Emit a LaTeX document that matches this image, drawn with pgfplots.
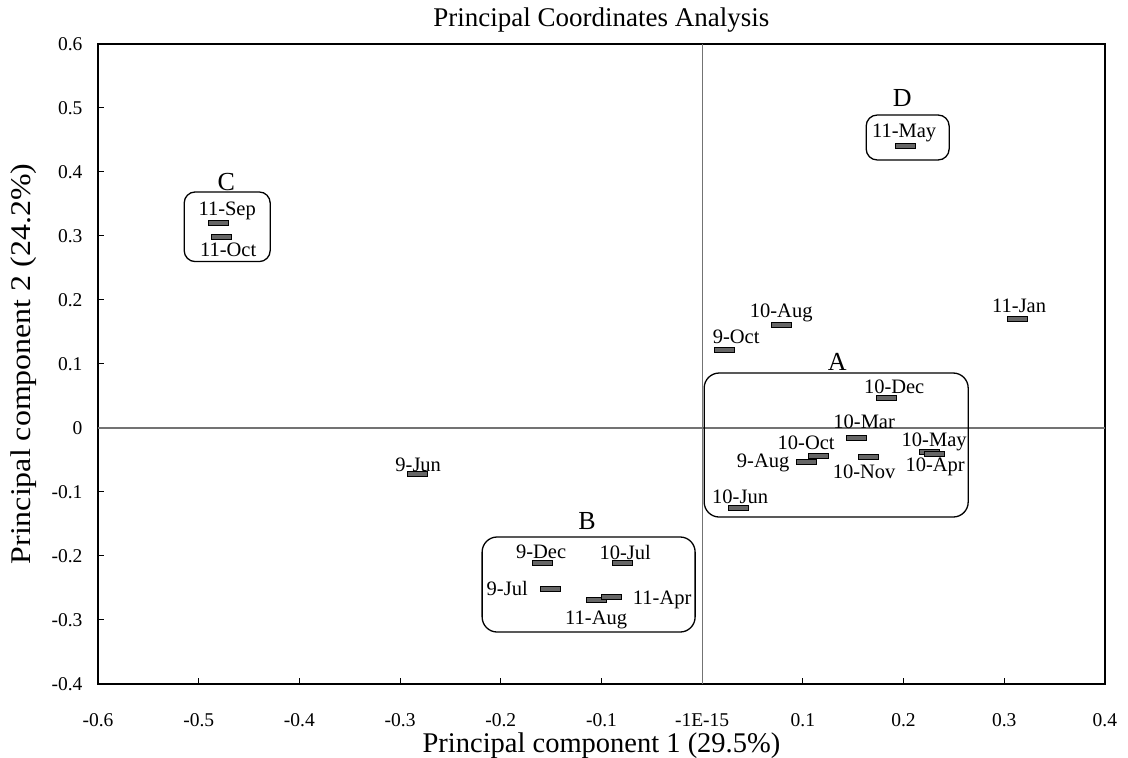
\documentclass[border=0pt]{standalone}
\usepackage{fontspec}
\setmainfont{Liberation Serif}
\usepackage{pgfplots}
\pgfplotsset{compat=1.18}
\pgfdeclareplotmark{hbar}{%
  \pgfpathrectangle{\pgfqpoint{-10pt}{-2.5pt}}{\pgfqpoint{20pt}{5pt}}%
  \pgfusepathqfillstroke}
\newcommand{\lbl}{\fontsize{20.5}{20.5}\selectfont}
\newcommand{\grp}{\fontsize{26}{26}\selectfont}
\begin{document}
\begin{tikzpicture}
\path[use as bounding box] (0,0) rectangle (1128pt,758pt);
\begin{axis}[
  at={(98pt,74pt)}, anchor=south west,
  scale only axis, width=1007pt, height=640pt,
  xmin=-0.6, xmax=0.4, ymin=-0.4, ymax=0.6,
  axis line style={line width=1.6pt},
  xtick={-0.6,-0.5,-0.4,-0.3,-0.2,-0.1,0,0.1,0.2,0.3,0.4},
  xticklabels={-0.6,-0.5,-0.4,-0.3,-0.2,-0.1,-1E-15,0.1,0.2,0.3,0.4},
  ytick={-0.4,-0.3,-0.2,-0.1,0,0.1,0.2,0.3,0.4,0.5,0.6},
  yticklabels={-0.4,-0.3,-0.2,-0.1,0,0.1,0.2,0.3,0.4,0.5,0.6},
  xtick pos=bottom, ytick pos=left, tick align=inside, major tick length=6pt,
  tick style={black, line width=1pt},
  ticklabel style={font=\fontsize{19.5}{19.5}\selectfont},
  xticklabel style={anchor=base, yshift=-42pt},
  yticklabel style={xshift=-12pt},
  title={Principal Coordinates Analysis},
  title style={at={(axis description cs:0.5,1)}, anchor=base, yshift=11pt, font=\fontsize{27}{27}\selectfont},
  xlabel={Principal component 1 (29.5\%)},
  xlabel style={at={(axis description cs:0.5,0)}, anchor=base, yshift=-68pt, font=\fontsize{28.5}{28.5}\selectfont},
  ylabel={\scalebox{1.12}[1]{Principal component 2 (24.2\%)}},
  ylabel style={at={(axis description cs:0,0.5)}, anchor=base, yshift=67pt, font=\fontsize{28.5}{28.5}\selectfont},
  clip=false,
]
% zero lines
\draw[black!55, line width=1.1pt] (axis cs:-0.6,0) -- (axis cs:0.4,0);
\draw[black!55, line width=1.1pt] (axis cs:0,-0.4) -- (axis cs:0,0.6);

\addplot[only marks, mark=hbar, mark options={fill=black!60, draw=black, line width=0.7pt}] coordinates {
(-0.4806,0.3203) (-0.4777,0.2984) (0.2016,0.4406) (0.3128,0.1703)
(0.0785,0.1609) (0.0218,0.1219) (0.1827,0.0469) (0.1529,-0.0156)
(0.1152,-0.0438) (0.1033,-0.0531) (0.1648,-0.0453) (0.2254,-0.0375)
(0.2304,-0.0406) (0.0357,-0.1250) (-0.2830,-0.0719) (-0.1589,-0.2109)
(-0.0794,-0.2109) (-0.1509,-0.2516) (-0.1053,-0.2688) (-0.0904,-0.2641)
};

% group boxes
\draw[line width=1.3pt, rounded corners=15pt] (axis cs:0.002,0.0859) rectangle (axis cs:0.2642,-0.1391);
\draw[line width=1.3pt, rounded corners=15pt] (axis cs:-0.2185,-0.1703) rectangle (axis cs:-0.007,-0.3188);
\draw[line width=1.3pt, rounded corners=11pt] (axis cs:-0.5144,0.3688) rectangle (axis cs:-0.4290,0.2600);
\draw[line width=1.3pt, rounded corners=11pt] (axis cs:0.1629,0.489) rectangle (axis cs:0.2453,0.4188);

% group letters
\node[font=\grp] at (axis cs:0.1341,0.1031) {A};
\node[font=\grp] at (axis cs:-0.1142,-0.1453) {B};
\node[font=\grp] at (axis cs:-0.4727,0.3844) {C};
\node[font=\grp] at (axis cs:0.1986,0.5156) {D};

% point labels
\node[font=\lbl] at (axis cs:0.0785,0.1797) {10-Aug};
\node[font=\lbl] at (axis cs:0.0338,0.1422) {9-Oct};
\node[font=\lbl] at (axis cs:0.1907,0.0641) {10-Dec};
\node[font=\lbl] at (axis cs:0.1609,0.0094) {10-Mar};
\node[font=\lbl] at (axis cs:0.1033,-0.0234) {10-Oct};
\node[font=\lbl] at (axis cs:0.0606,-0.0547) {9-Aug};
\node[font=\lbl] at (axis cs:0.1609,-0.0688) {10-Nov};
\node[font=\lbl] at (axis cs:0.2304,-0.0219) {10-May};
\node[font=\lbl] at (axis cs:0.2314,-0.0609) {10-Apr};
\node[font=\lbl] at (axis cs:0.0377,-0.1078) {10-Jun};
\node[font=\lbl] at (axis cs:-0.2820,-0.0578) {9-Jun};
\node[font=\lbl] at (axis cs:0.3148,0.1906) {11-Jan};
\node[font=\lbl] at (axis cs:0.2006,0.4609) {11-May};
\node[font=\lbl] at (axis cs:-0.4717,0.3390) {11-Sep};
\node[font=\lbl] at (axis cs:-0.4707,0.2790) {11-Oct};
\node[font=\lbl] at (axis cs:-0.1599,-0.1938) {9-Dec};
\node[font=\lbl] at (axis cs:-0.0765,-0.1938) {10-Jul};
\node[font=\lbl] at (axis cs:-0.1936,-0.2500) {9-Jul};
\node[font=\lbl] at (axis cs:-0.0397,-0.2688) {11-Apr};
\node[font=\lbl] at (axis cs:-0.1053,-0.3000) {11-Aug};
\end{axis}
\end{tikzpicture}
\end{document}
